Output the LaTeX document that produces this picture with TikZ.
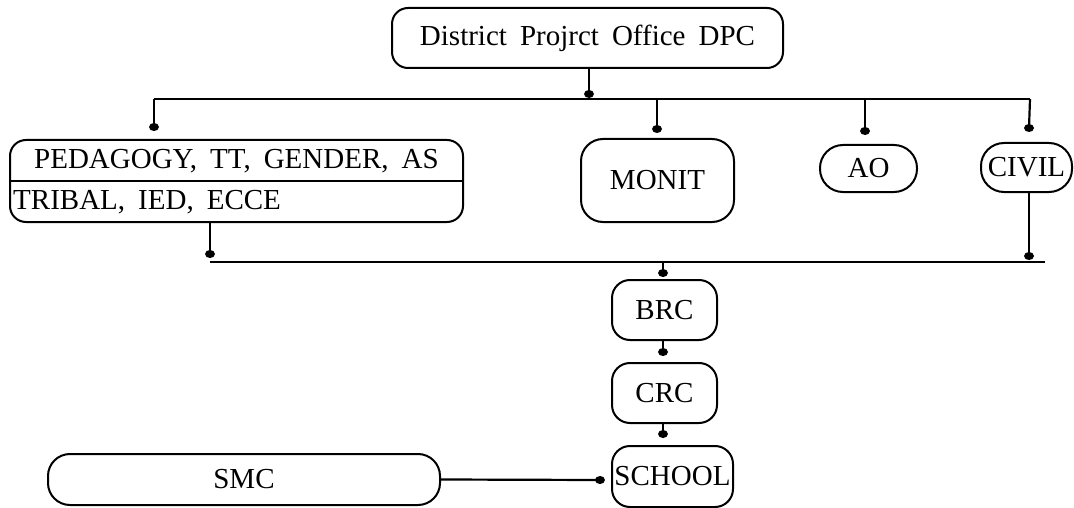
\documentclass[tikz,border=0pt]{standalone}
\usepackage{fontspec}
\setmainfont{Liberation Serif}
\newcommand\mylblfont{\fontsize{29}{33}\selectfont\spaceskip=0.45em\relax}
\begin{document}
\begin{tikzpicture}[x=1pt,y=-1pt,
  box/.style={draw, line width=2pt, rounded corners=#1, inner sep=0pt, align=center},
  box/.default=16pt,
  lbl/.style={inner sep=0pt, font=\mylblfont},
  conn/.style={line width=2.2pt}]
\useasboundingbox (0,0) rectangle (1074,508);
% boxes
\node[box=16pt, minimum width=391pt, minimum height=60pt] (top) at (587.5,38) {};
\node[lbl] (toptxt) at (top.center) {District Projrct Office DPC};
\node[box=16pt, minimum width=453pt, minimum height=82pt] (left) at (236.5,181) {};
\draw[line width=1.8pt] (left.west) -- (left.east);
\node[lbl] (ltxt1) at (236.5,161) {PEDAGOGY, TT, GENDER, AS};
\node[lbl, anchor=west] (ltxt2) at (13,202) {TRIBAL, IED, ECCE};
\node[box=22pt, minimum width=153pt, minimum height=83pt, lbl] (monit) at (657.5,180.5) {MONIT};
\node[box=23pt, minimum width=97pt, minimum height=47pt, lbl] (ao) at (868.5,168.5) {AO};
\node[box=23pt, minimum width=91pt, minimum height=49pt, lbl] (civil) at (1026.5,167.5) {CIVIL};
\node[box=18pt, minimum width=105pt, minimum height=60pt, lbl] (brc) at (664.5,310) {BRC};
\node[box=18pt, minimum width=105pt, minimum height=60pt, lbl] (crc) at (664.5,393) {CRC};
\node[box=18pt, minimum width=121pt, minimum height=61pt, lbl] (school) at (672.5,476.5) {SCHOOL};
\node[box=22pt, minimum width=392pt, minimum height=51pt, lbl] (smc) at (244,479.5) {SMC};
% bus lines
\coordinate (b1L) at (154,99);
\coordinate (b1R) at (1030,99);
\coordinate (b2L) at (210,262);
\coordinate (b2R) at (1045,262);
\draw[conn] (b1L) -- (b1R);
\draw[conn] (b2L) -- (b2R);
% top to bus 1
\coordinate (dTop) at (589,94);
\draw[conn] (top.south -| dTop) -- (dTop);
\fill (dTop) ellipse (5 and 4);
% bus 1 drops
\coordinate (dL) at (154,127);
\coordinate (dM) at (657,129);
\coordinate (dA) at (865,131);
\coordinate (dC) at (1029,128);
\draw[conn] (b1L) -- (dL);
\draw[conn] (b1L -| dM) -- (dM);
\draw[conn] (b1L -| dA) -- (dA);
\draw[conn] (b1R) -- (dC);
\foreach \d in {dL,dM,dA,dC} \fill (\d) ellipse (5 and 4);
% to bus 2
\coordinate (eL) at (210,254);
\coordinate (eC) at (1029,256);
\draw[conn] (left.south -| eL) -- (eL);
\draw[conn] (civil.south -| eC) -- (eC);
\fill (eL) ellipse (5 and 4);
\fill (eC) ellipse (5 and 4);
% bus 2 to BRC, BRC to CRC, CRC to SCHOOL
\coordinate (dB) at (663,273);
\draw[conn] (b2L -| dB) -- (dB);
\fill (dB) ellipse (5 and 4);
\coordinate (dBC) at (663,352);
\draw[conn] (brc.south -| dBC) -- (dBC);
\fill (dBC) ellipse (5 and 4);
\coordinate (dCS) at (663,434);
\draw[conn] (crc.south -| dCS) -- (dCS);
\fill (dCS) ellipse (5 and 4);
% SMC to SCHOOL
\coordinate (dS) at (600,480);
\draw[conn] (smc.east) -- (dS);
\fill (dS) ellipse (5 and 4);
\end{tikzpicture}
\end{document}
